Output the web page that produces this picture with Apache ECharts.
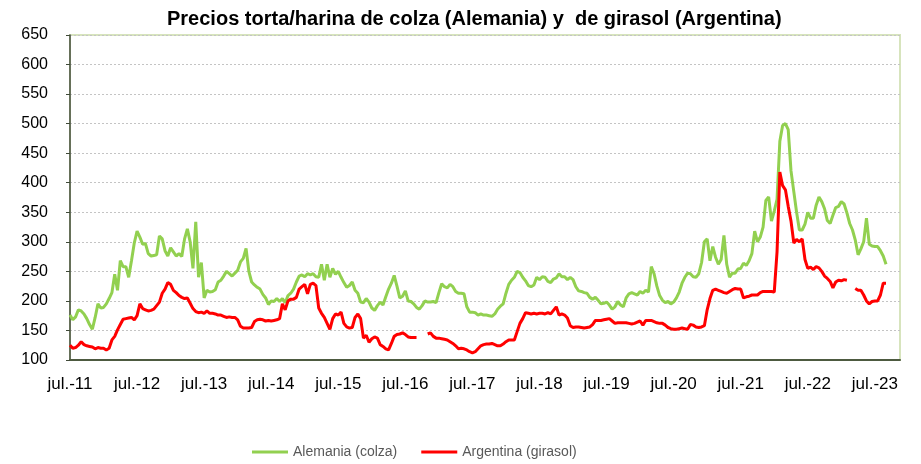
<!DOCTYPE html>
<html>
<head>
<meta charset="utf-8">
<script src="https://cdn.jsdelivr.net/npm/echarts@6/dist/echarts.min.js"></script>
<style>
  html, body { margin: 0; padding: 0; background: #fff; }
  #chart { width: 921px; height: 464px; }
</style>
</head>
<body>
<div id="chart"></div>
<script>
// dos puntos por mes, desde jul.-11
var meses = ['jul.', 'ago.', 'sep.', 'oct.', 'nov.', 'dic.', 'ene.', 'feb.', 'mar.', 'abr.', 'may.', 'jun.']
var yLabels = [100, 150, 200, 250, 300, 350, 400, 450, 500, 550, 600, 650]

var alemania = [
  176, 168, 173, 185, 183, 178, 170, 160, 152, 172, 195, 188, 189, 195, 204, 214, 245, 218, 268, 258,
  258, 240, 268, 298, 318, 308, 296, 297, 280, 276, 277, 278, 310, 305, 285, 276, 290, 283, 276, 280,
  275, 305, 322, 300, 255, 334, 240, 265, 205, 218, 215, 216, 219, 232, 235, 242, 250, 246, 242, 247,
  252, 266, 272, 289, 250, 232, 227, 223, 220, 211, 205, 194, 200, 199, 204, 199, 204, 197, 209, 213,
  220, 232, 242, 244, 241, 246, 244, 246, 241, 240, 262, 235, 262, 240, 255, 245, 250, 240, 231, 223,
  226, 232, 218, 213, 198, 197, 204, 198, 188, 184, 192, 198, 193, 207, 220, 230, 243, 225, 205, 208,
  217, 200, 199, 195, 189, 186, 192, 200, 198, 198, 199, 197, 214, 229, 224, 222, 228, 224, 216, 213,
  213, 212, 190, 181, 181, 180, 176, 178, 176, 176, 175, 174, 178, 186, 191, 195, 213, 228, 235, 240,
  250, 248, 240, 234, 226, 224, 227, 240, 236, 241, 240, 233, 231, 237, 239, 246, 241, 241, 236, 240,
  236, 224, 217, 216, 214, 213, 206, 203, 206, 201, 195, 196, 198, 193, 186, 190, 199, 193, 190, 205,
  212, 214, 212, 210, 216, 213, 218, 215, 258, 246, 225, 209, 201, 197, 199, 195, 198, 205, 215, 230,
  240, 247, 246, 241, 240, 246, 265, 300, 305, 268, 292, 274, 262, 270, 311, 262, 240, 247, 247, 254,
  255, 264, 260, 268, 280, 318, 300, 308, 325, 370, 376, 335, 352, 372, 470, 497, 500, 490, 420, 385,
  350, 320, 320, 330, 350, 340, 340, 362, 376, 368, 356, 336, 331, 345, 358, 360, 368, 364, 349, 331,
  320, 303, 278, 288, 300, 340, 296, 293, 292, 292, 285, 276, 262
]

var argentina = [
  125, 120, 121, 125, 131, 126, 124, 123, 122, 119, 121, 120, 120, 117, 120, 134, 140, 151, 160, 169,
  170, 171, 172, 168, 175, 195, 187, 185, 183, 184, 186, 192, 198, 213, 220, 231, 228, 218, 214, 209,
  206, 204, 205, 196, 187, 182, 180, 181, 179, 183, 179, 179, 178, 176, 176, 174, 172, 173, 172, 172,
  168, 157, 154, 154, 154, 155, 165, 168, 169, 168, 166, 167, 166, 167, 168, 170, 195, 185, 200, 203,
  203, 206, 220, 224, 228, 212, 228, 230, 226, 188, 179, 172, 162, 152, 170, 178, 176, 181, 162, 156,
  154, 155, 172, 178, 170, 137, 142, 130, 136, 139, 137, 126, 123, 119, 117, 128, 140, 143, 144, 146,
  143, 139, 138, 138, 138, null, null, null, 144, 146, 140, 137, 137, 136, 135, 134, 131, 128, 124, 119,
  120, 119, 117, 114, 112, 114, 119, 124, 126, 127, 127, 128, 126, 124, 124, 127, 131, 134, 134, 134,
  148, 162, 170, 180, 179, 178, 179, 178, 179, 179, 178, 180, 178, 184, 190, 176, 178, 176, 171, 158,
  155, 156, 156, 155, 154, 155, 156, 160, 167, 167, 167, 168, 169, 170, 166, 162, 163, 163, 163, 163,
  162, 161, 162, 164, 166, 159, 167, 167, 167, 165, 163, 162, 162, 159, 155, 153, 152, 152, 153, 154,
  153, 152, 160, 159, 156, 155, 156, 158, 185, 204, 218, 220, 218, 216, 214, 213, 216, 219, 221, 220,
  220, 205, 207, 208, 210, 210, 210, 214, 216, 216, 216, 216, 215, 283, 418, 395, 388, 360, 335, 298,
  304, 300, 305, 270, 255, 257, 253, 258, 256, 250, 242, 238, 233, 222, 232, 235, 234, 236, 235, null,
  null, 221, 218, 218, 210, 200, 195, 199, 200, 200, 210, 230, 230
]

var categorias = []
for (var i = 0; i < 298; i++) {
  var m = Math.floor(i / 2)
  categorias.push(meses[m % 12] + '-' + (11 + Math.floor((m + 6) / 12)))
}

var myChart = echarts.init(document.getElementById('chart'))
myChart.setOption({
  animation: false,
  title: {
    text: 'Precios torta/harina de colza (Alemania) y  de girasol (Argentina)',
    left: 162,
    top: 4,
    textStyle: {
      color: '#000',
      fontFamily: 'Liberation Sans',
      fontWeight: 'bold',
      fontSize: 20
    }
  },
  grid: {
    left: 70,
    right: 21,
    top: 35,
    bottom: 104,
    show: true,
    borderColor: '#d7e4bd',
    borderWidth: 2
  },
  legend: {
    bottom: 0,
    left: 247,
    icon: 'rect',
    itemWidth: 36,
    itemHeight: 3,
    itemGap: 24,
    textStyle: {
      color: '#595959',
      fontFamily: 'Liberation Sans',
      fontSize: 14
    }
  },
  xAxis: {
    type: 'category',
    data: categorias,
    boundaryGap: false,
    axisLine: { lineStyle: { color: '#4d5a40', width: 2 } },
    axisTick: { show: false },
    splitLine: { show: false },
    axisLabel: {
      color: '#000',
      fontFamily: 'Liberation Sans',
      fontSize: 17,
      margin: 16,
      interval: function (idx) { return idx % 24 === 0 }
    }
  },
  yAxis: {
    type: 'value',
    min: yLabels[0],
    max: yLabels[yLabels.length - 1],
    interval: 50,
    axisLine: { show: true, lineStyle: { color: '#404a38', width: 1.5 } },
    axisTick: { show: true, length: 4, lineStyle: { color: '#404a38' } },
    splitLine: { lineStyle: { color: '#c4c4c4', type: [2, 2] } },
    axisLabel: {
      color: '#000',
      fontFamily: 'Liberation Sans',
      fontSize: 16,
      margin: 22
    }
  },
  series: [
    {
      name: 'Alemania (colza)',
      type: 'line',
      data: alemania,
      symbol: 'none',
      itemStyle: { color: '#92d050' },
      lineStyle: { color: '#92d050', width: 3 }
    },
    {
      name: 'Argentina (girasol)',
      type: 'line',
      data: argentina,
      symbol: 'none',
      connectNulls: false,
      itemStyle: { color: '#ff0000' },
      lineStyle: { color: '#ff0000', width: 3 }
    }
  ]
})
</script>
</body>
</html>
